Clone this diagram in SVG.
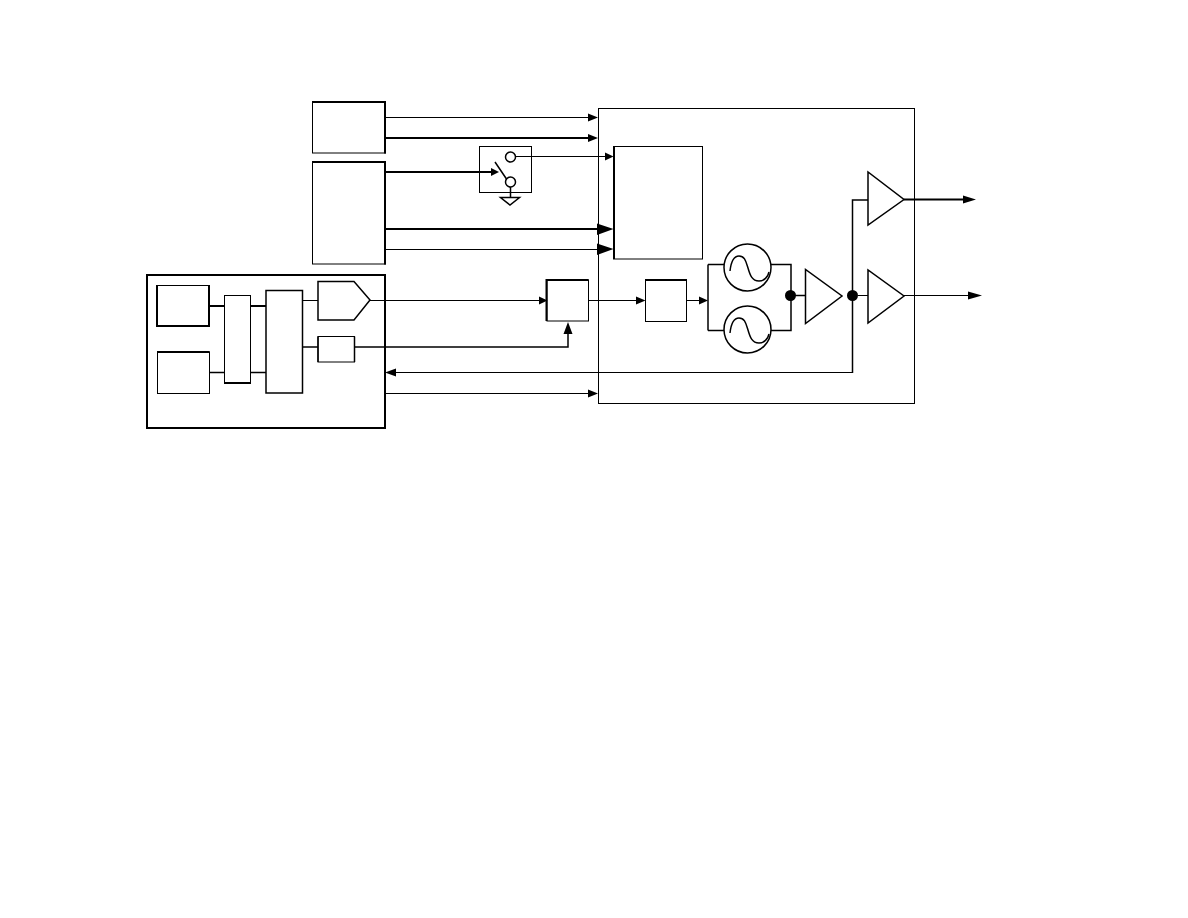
<svg xmlns="http://www.w3.org/2000/svg" width="1188" height="918" viewBox="0 0 1188 918">
<style>
.b{fill:#fff;stroke:#000;stroke-width:1}
.m{fill:#fff;stroke:#000;stroke-width:1.5}
.w{fill:#fff;stroke:#000;stroke-width:2}
.l{fill:none;stroke:#000;stroke-width:1}
.c{fill:none;stroke:#000;stroke-width:1.5}
.t{fill:none;stroke:#000;stroke-width:2}
.h{fill:#000;stroke:none}
</style>
<rect width="1188" height="918" fill="#fff"/>
<g id="main"><rect class="b" x="598.500" y="108.500" width="316" height="295"/></g>
<g id="source-a"><rect class="b" x="312.500" y="102" width="73" height="51"/><path class="t" d="M312 102H385V153.500"/></g>
<g id="source-b"><rect class="b" x="312.500" y="162" width="73" height="102"/><path class="t" d="M312 162H385V264.500"/></g>
<g id="switch"><rect class="b" x="479.500" y="146.500" width="52" height="46"/>
<circle class="m" cx="510.500" cy="157" r="5"/><circle class="m" cx="510.500" cy="182" r="5"/>
<path class="c" d="M495 162L506.500 179M510.500 187V197"/>
<path class="m" d="M500.500 197.500H519.500L510 205Z"/></g>
<g id="controller"><rect class="w" x="147" y="275" width="238" height="153"/></g>
<g id="reg-1"><rect class="b" x="157" y="285.500" width="52" height="40.500"/><path class="t" d="M157 285V326H209V285"/></g>
<g id="reg-2"><rect class="b" x="157.500" y="352" width="52" height="41.500"/><path class="t" d="M157 352H209.500"/></g>
<g id="bus"><rect class="b" x="224.500" y="295.500" width="26" height="87.500"/><path class="t" d="M224 383H251"/></g>
<g id="mux"><rect class="m" x="266" y="290.500" width="36.500" height="102.500"/></g>
<g id="dac"><path class="m" d="M318 281.500H354L370 300L354 320H318Z"/></g>
<g id="small"><rect class="b" x="318" y="336.500" width="36.500" height="25.500"/><path class="c" d="M318 336.500V362M354.500 336.500V362"/></g>
<g id="mixer"><rect class="b" x="547" y="280" width="41.500" height="41"/><path class="t" d="M546.500 321V280H588.500"/></g>
<g id="filter"><rect class="b" x="645.500" y="280.500" width="41" height="41"/><path class="t" d="M645 280H687"/></g>
<g id="core"><rect class="b" x="613.500" y="146.500" width="89" height="112.500"/><path class="t" d="M614 146V259"/></g>
<g id="osc-1"><circle class="m" cx="747.500" cy="267.500" r="23.500"/><path class="c" d="M730 271C731 262 734 256 739 256C745 256 746 262 748 268C750 275 752 281 759 281C764 281 768 277 769 272"/></g>
<g id="osc-2"><circle class="m" cx="747.500" cy="329.500" r="23.500"/><path class="c" d="M730 333C731 324 734 318 739 318C745 318 746 324 748 330C750 337 752 343 759 343C764 343 768 339 769 334"/></g>
<g id="amp"><path class="m" d="M805.500 269.500V323.500L842 296Z"/></g>
<g id="amp-1"><path class="m" d="M868 172V225L904 199.500Z"/></g>
<g id="amp-2"><path class="m" d="M868 270V323L904 296Z"/></g>
<g id="connectors">
<path class="l" d="M386 117.500H589M386 249.500H598M516 156.500H605M370 300.500H540M588 300.500H637M686 300.500H700M385 393.500H589M395 372.500H852.500M904 295.500H970M858 295.500H868M302 300.500H318"/>
<path class="c" d="M852.500 373V200H868M771 264.500H791V330.500H771M708 264.500V330.500M708 264.500H724M708 330.500H724M791 295.500H806M354 347H568V333M302 347H318M209 372.500H225M250 372.500H266"/>
<path class="t" d="M386 138H589M386 172H493M386 229H598M904 199.500H964M209 306H225M250 306H266"/>
<path class="h" d="M598 117.500L588 113.500V121.500ZM598 138L588 134V142ZM499 172L491 168V176ZM613.500 156.500L605 152.500V160.500ZM613.500 229L597 223.500V235ZM613.500 249L597 243.500V255ZM547.500 300.500L539 296.500V304.500ZM645.500 300.500L636 296.500V304.500ZM708 300.500L699 296.500V304.500ZM568 322L563.500 334H572.500ZM385 372.500L396 368.500V376.500ZM598 393.500L588 389.500V397.500ZM976 199.500L963 195.500V203.500ZM982 295.500L968 291.500V299.500Z"/>
<circle class="h" cx="790.500" cy="295.500" r="5.500"/><circle class="h" cx="852.500" cy="295.500" r="5.500"/>
</g>
</svg>
